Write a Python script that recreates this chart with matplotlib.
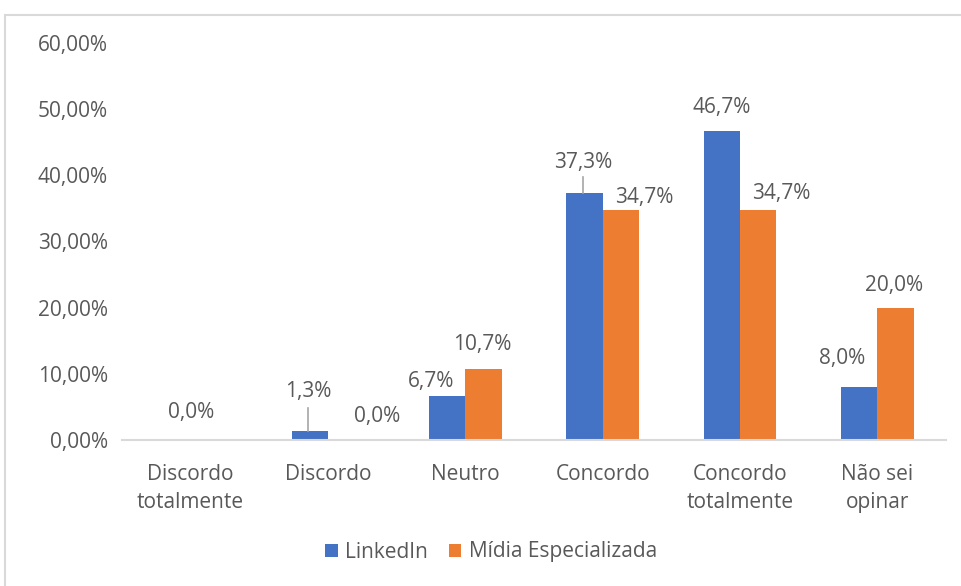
import matplotlib
matplotlib.use("Agg")
import matplotlib.pyplot as plt
from matplotlib.patches import Rectangle
import numpy as np

categories = ["Discordo\ntotalmente", "Discordo", "Neutro", "Concordo", "Concordo\ntotalmente", "Não sei\nopinar"]
linkedin = [0.0, 1.3, 6.7, 37.3, 46.7, 8.0]
midia = [0.0, 0.0, 10.7, 34.7, 34.7, 20.0]
series_names = ["LinkedIn", "Mídia Especializada"]
yticks = [0, 10, 20, 30, 40, 50, 60]

plt.rcParams['font.family'] = ['Open Sans', 'DejaVu Sans']
txt = "#595959"
blue = "#4472C4"
orange = "#ED7D31"
FS = 15

fig = plt.figure(figsize=(9.62, 5.86), dpi=100)
ax = fig.add_axes([122/962, 1-440/586, (946-122)/962, (440-43)/586])

x = np.arange(len(categories))
w = 0.265
ax.bar(x - w/2, linkedin, w, color=blue, label=series_names[0])
ax.bar(x + w/2, midia, w, color=orange, label=series_names[1])

ax.set_xlim(-0.5, len(categories)-0.5)
ax.set_ylim(0, 60)
ax.set_yticks(yticks)
ax.set_yticklabels([f"{v:.2f}".replace(".", ",") + "%" for v in yticks], color=txt, fontsize=FS)
ax.set_xticks(x)
ax.set_xticklabels(categories, color=txt, fontsize=FS, linespacing=1.45)
ax.tick_params(axis='both', length=0)
ax.tick_params(axis='x', pad=17)
ax.tick_params(axis='y', pad=10)
for s in ["top", "right", "left"]:
    ax.spines[s].set_visible(False)
ax.spines["bottom"].set_color("#D9D9D9")
ax.spines["bottom"].set_linewidth(1.5)

def fmt(v):
    return f"{v:.1f}".replace(".", ",") + "%"

# label positions (dx in category units from category centre, y in data units)
lk_pos = [(0.0, 4.1), (-0.145, 7.4), (-0.25, 8.9), (-0.14, 42.0), (-0.13, 50.3), (-0.26, 12.3)]
md_pos = [(0.0, 4.1), (0.36, 3.6), (0.12, 14.4), (0.30, 36.7), (0.30, 37.3), (0.12, 23.3)]
for i in range(len(categories)):
    dx, yy = lk_pos[i]
    ax.text(x[i] + dx, yy, fmt(linkedin[i]), ha="center", va="center", color=txt, fontsize=FS)
    if i == 0:
        continue  # both 0,0% labels coincide in the original
    dx, yy = md_pos[i]
    ax.text(x[i] + dx, yy, fmt(midia[i]), ha="center", va="center", color=txt, fontsize=FS)
# leader lines
ax.plot([x[1] - w/2 - 0.01, x[1] - w/2 - 0.01], [linkedin[1], 4.8], color="#A6A6A6", lw=1.2)
ax.plot([x[3] - w/2 - 0.01, x[3] - w/2 - 0.01], [linkedin[3], 39.7], color="#A6A6A6", lw=1.2)

leg = fig.legend(loc="center", bbox_to_anchor=(491/962, 1-552/586), ncol=2, frameon=False,
                 fontsize=FS, handlelength=0.6, handleheight=0.6, columnspacing=1.0, handletextpad=0.35)
for t in leg.get_texts():
    t.set_color(txt)

fig.patches.append(Rectangle((5/962, -0.05), 1.1, 1-15/586+0.05, transform=fig.transFigure,
                             fill=False, edgecolor="#D9D9D9", lw=1.5))
fig.savefig("out.png", dpi=100)
